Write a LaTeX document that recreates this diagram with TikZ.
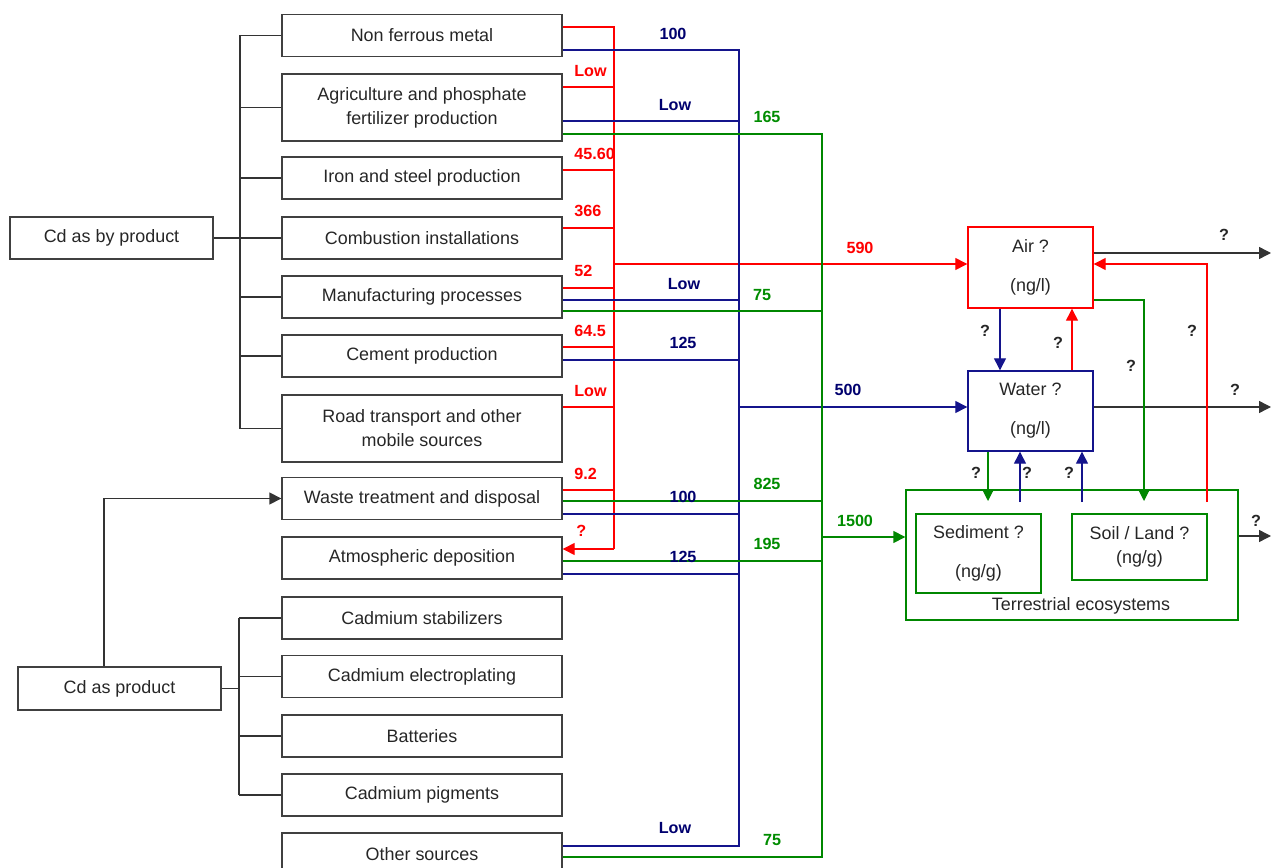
\documentclass[tikz,border=0pt]{standalone}
\usepackage{fontspec}
\setmainfont{Liberation Sans}
\usetikzlibrary{arrows.meta,calc}
\definecolor{cred}{RGB}{255,0,0}
\definecolor{cblue}{RGB}{20,20,140}
\definecolor{cbluet}{RGB}{0,0,110}
\definecolor{cgreen}{RGB}{0,135,0}
\definecolor{cgreent}{RGB}{0,140,0}
\begin{document}
\begin{tikzpicture}[x=0.02cm,y=-0.02cm,
  src/.style={draw=black!75, line width=0.8pt, inner sep=0pt, minimum width=5.6cm, minimum height=0.84cm,
    align=center, font=\fontsize{10.2}{13.6}\selectfont, text=black!85},
  tallbox/.style={minimum height=1.34cm},
  env/.style={line width=0.8pt, inner sep=0pt, align=center, font=\fontsize{10.2}{13.6}\selectfont, text=black!85},
  blk/.style={draw=black!80, line width=0.8pt},
  redl/.style={draw=cred, line width=0.7pt},
  bluel/.style={draw=cblue, line width=0.7pt},
  greenl/.style={draw=cgreen, line width=0.7pt},
  arr/.style={-{Triangle[length=6.8pt,width=6.8pt]}},
  lab/.style={font=\fontsize{9.2}{11}\selectfont\bfseries, inner sep=0pt},
  rlab/.style={lab, text=cred, anchor=west},
  blab/.style={lab, text=cbluet},
  glab/.style={lab, text=cgreent},
  qlab/.style={lab, text=black!85}]
\path[use as bounding box] (0,0) rectangle (1272,868);
\clip (0,0) rectangle (1272,868);

% source boxes
\node[src] (s1) at (422,35.5) {Non ferrous metal};
\node[src,tallbox] (s2) at (422,107.5) {Agriculture and phosphate\\fertilizer production};
\node[src] (s3) at (422,178) {Iron and steel production};
\node[src] (s4) at (422,238) {Combustion installations};
\node[src] (s5) at (422,297) {Manufacturing processes};
\node[src] (s6) at (422,356) {Cement production};
\node[src,tallbox] (s7) at (422,428.5) {Road transport and other\\mobile sources};
\node[src] (s8) at (422,498.5) {Waste treatment and disposal};
\node[src] (s9) at (422,558) {Atmospheric deposition};
\node[src] (s10) at (422,618) {Cadmium stabilizers};
\node[src] (s11) at (422,676.5) {Cadmium electroplating};
\node[src] (s12) at (422,736) {Batteries};
\node[src] (s13) at (422,795) {Cadmium pigments};
\node[src] (s14) at (422,854) {Other sources};

\node[src,minimum width=4.06cm] (cbp) at (111.5,238) {Cd as by product};
\node[src,minimum width=4.06cm,minimum height=0.86cm] (cp) at (119.5,688.5) {Cd as product};

% environment boxes
\node[env,draw=cred,minimum width=2.5cm,minimum height=1.62cm] (air) at (1030.5,267.5) {Air ?\\[8.5pt](ng/l)};
\node[env,draw=cblue,minimum width=2.5cm,minimum height=1.6cm] (water) at (1030.5,411) {Water ?\\[8.5pt](ng/l)};
\node[env,draw=cgreen,minimum width=6.64cm,minimum height=2.6cm] (terr) at (1072,555) {};
\node[env,draw=cgreen,minimum width=2.5cm,minimum height=1.58cm] (sed) at (978.5,553.5) {Sediment ?\\[8.5pt](ng/g)};
\node[env,draw=cgreen,minimum width=2.7cm,minimum height=1.32cm] (soil) at (1139.5,547) {Soil / Land ?\\(ng/g)};
\node[env] (tlab) at (1081,606) {Terrestrial ecosystems};

% brackets
\draw[blk] (cbp.east) -- (240,0|-cbp.east);
\draw[blk] (240,0|-s1.west) -- (240,0|-s7.west);
\foreach \b in {s1,s2,s3,s4,s5,s6,s7} \draw[blk] (240,0|-\b.west) -- (\b.west);
\draw[blk] (cp.east) -- (239,0|-cp.east);
\draw[blk] (239,0|-s10.west) -- (239,0|-s13.west);
\foreach \b in {s10,s11,s12,s13} \draw[blk] (239,0|-\b.west) -- (\b.west);
\draw[blk,arr] (cp.north -| 104,0) |- (s8.west);

% red flows
\coordinate (rtop) at (614,27);
\coordinate (rbot) at (614,549);
\draw[redl] (s1.east|-rtop) -- (rtop) -- (rbot);
\draw[redl,arr] (rbot) -- (s9.east|-rbot);
\foreach \b/\y in {s2/87,s3/170,s4/228,s5/288,s6/347,s7/407,s8/490}
  \draw[redl] (\b.east|-0,\y) -- (614,\y);
\draw[redl,arr] (614,264) -- (air.west|-0,264);

% blue flows
\coordinate (btop) at (739,50);
\coordinate (bbot) at (739,846);
\draw[bluel] (s1.east|-btop) -- (btop) -- (bbot) -- (s14.east|-bbot);
\foreach \b/\y in {s2/121,s5/300,s6/360,s8/514,s9/574}
  \draw[bluel] (\b.east|-0,\y) -- (739,\y);
\draw[bluel,arr] (739,407) -- (water.west|-0,407);

% green flows
\coordinate (gtop) at (822,134);
\coordinate (gbot) at (822,857);
\draw[greenl] (s2.east|-gtop) -- (gtop) -- (gbot) -- (s14.east|-gbot);
\foreach \b/\y in {s5/311,s8/501,s9/561}
  \draw[greenl] (\b.east|-0,\y) -- (822,\y);
\draw[greenl,arr] (822,537) -- (terr.west|-0,537);

% environment exchanges
\coordinate (aout) at (1271,253);
\coordinate (wout) at (1271,407);
\coordinate (tout) at (1271,536);
\coordinate (rsoil) at (1207,502);
\coordinate (gsoil) at (1144,501);
\coordinate (gsed) at (988,501);
\coordinate (bsed) at (1020,502);
\coordinate (bsoil) at (1082,502);
\draw[blk,arr] (air.east|-aout) -- (aout);
\draw[blk,arr] (water.east|-wout) -- (wout);
\draw[blk,arr] (terr.east|-tout) -- (tout);
\draw[bluel,arr] (air.south -| 1000,0) -- (water.north -| 1000,0);
\draw[redl,arr] (water.north -| 1072,0) -- (air.south -| 1072,0);
\draw[redl,arr] (rsoil) |- (air.east|-0,264);
\draw[greenl,arr] (air.east|-0,300) -| (gsoil);
\draw[greenl,arr] (water.south -| gsed) -- (gsed);
\draw[bluel,arr] (bsed) -- (water.south -| bsed);
\draw[bluel,arr] (bsoil) -- (water.south -| bsoil);

% red labels
\node[rlab] (r1) at (574,71) {Low};
\node[rlab] (r2) at (574,154) {45.60};
\node[rlab] (r3) at (574,211) {366};
\node[rlab] (r4) at (574,271) {52};
\node[rlab] (r5) at (574,331) {64.5};
\node[rlab] (r6) at (574,391) {Low};
\node[rlab] (r7) at (574,474) {9.2};
\node[rlab] (r8) at (576,531) {?};
\node[lab,text=cred] (r9) at (860,248) {590};

% blue labels
\node[blab] (b1) at (673,34) {100};
\node[blab] (b2) at (675,105) {Low};
\node[blab] (b3) at (684,284) {Low};
\node[blab] (b4) at (683,343) {125};
\node[blab] (b5) at (683,497) {100};
\node[blab] (b6) at (683,557) {125};
\node[blab] (b7) at (675,828) {Low};
\node[blab] (b8) at (848,390) {500};

% green labels
\node[glab] (g1) at (767,117) {165};
\node[glab] (g2) at (762,295) {75};
\node[glab] (g3) at (767,484) {825};
\node[glab] (g4) at (767,544) {195};
\node[glab] (g5) at (855,521) {1500};
\node[glab] (g6) at (772,840) {75};

% question labels
\node[qlab] (q1) at (1224,235) {?};
\node[qlab] (q2) at (985,331) {?};
\node[qlab] (q3) at (1058,343) {?};
\node[qlab] (q4) at (1131,366) {?};
\node[qlab] (q5) at (1192,331) {?};
\node[qlab] (q6) at (1235,390) {?};
\node[qlab] (q7) at (976,473) {?};
\node[qlab] (q8) at (1027,473) {?};
\node[qlab] (q9) at (1069,473) {?};
\node[qlab] (q10) at (1256,521) {?};
\end{tikzpicture}
\end{document}
